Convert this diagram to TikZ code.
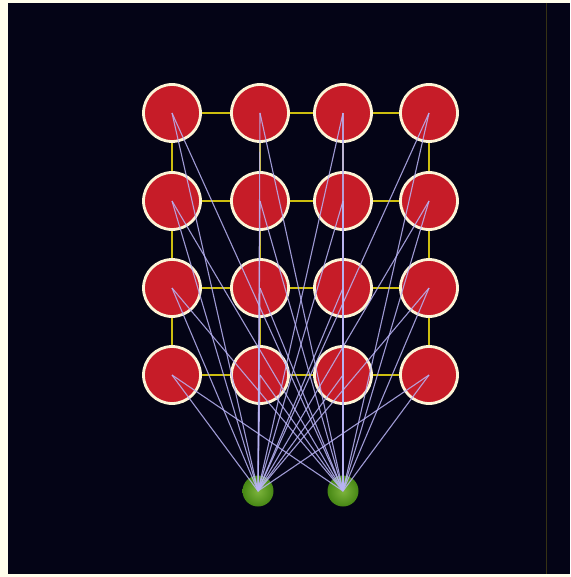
\documentclass[tikz,border=0pt]{standalone}
\usetikzlibrary{backgrounds}
\pgfdeclarelayer{bgzero}
\pgfdeclarelayer{bgone}
\pgfsetlayers{bgzero,bgone,main}
\definecolor{navy}{RGB}{4,4,22}
\definecolor{redfill}{RGB}{198,28,40}
\definecolor{cream}{RGB}{252,244,214}
\definecolor{gridyel}{RGB}{205,190,15}
\definecolor{lav}{RGB}{185,180,245}
\definecolor{greenfill}{RGB}{70,135,20}
\definecolor{greenlight}{RGB}{125,180,60}
\tikzset{
  unitnode/.style={circle,draw=cream,line width=2.8pt,fill=redfill,minimum size=57pt,inner sep=0pt},
  outnode/.style={circle,inner sep=0pt,minimum size=31pt,inner color=greenlight,outer color=greenfill,draw=none},
  gridedge/.style={draw=gridyel,line width=2.4pt},
  wedge/.style={draw=lav,line width=1.1pt,opacity=0.85}
}
\begin{document}
\begin{tikzpicture}[x=1pt,y=-1pt]
\useasboundingbox (0,0) rectangle (570,577);
\begin{pgfonlayer}{bgzero}
\fill[white!92!yellow] (0,0) rectangle (570,577);
\fill[navy] (8,3) rectangle (570,574);
\draw[gridyel!25!navy,line width=1pt] (546,3) -- (546,574);
\end{pgfonlayer}
% red units
\foreach \c/\x in {1/172,2/260,3/343,4/429}{
  \foreach \r/\y in {1/113,2/201,3/288,4/375}{
    \node[unitnode] (n\r\c) at (\x,\y) {};
  }
}
\node[outnode] (g1) at (258,491) {};
\node[outnode] (g2) at (343,491) {};
\begin{pgfonlayer}{bgone}
\foreach \r in {1,2,3,4}{
  \draw[gridedge] (n\r1) -- (n\r2);
  \draw[gridedge] (n\r2) -- (n\r3);
  \draw[gridedge] (n\r3) -- (n\r4);
}
\foreach \c in {1,2,3,4}{
  \draw[gridedge] (n1\c) -- (n2\c);
  \draw[gridedge] (n2\c) -- (n3\c);
  \draw[gridedge] (n3\c) -- (n4\c);
}
\end{pgfonlayer}
\foreach \g in {g1,g2}{
  \foreach \r in {1,2,3,4}{
    \foreach \c in {1,2,3,4}{
      \draw[wedge] (\g.center) -- (n\r\c.center);
    }
  }
}
\end{tikzpicture}
\end{document}
